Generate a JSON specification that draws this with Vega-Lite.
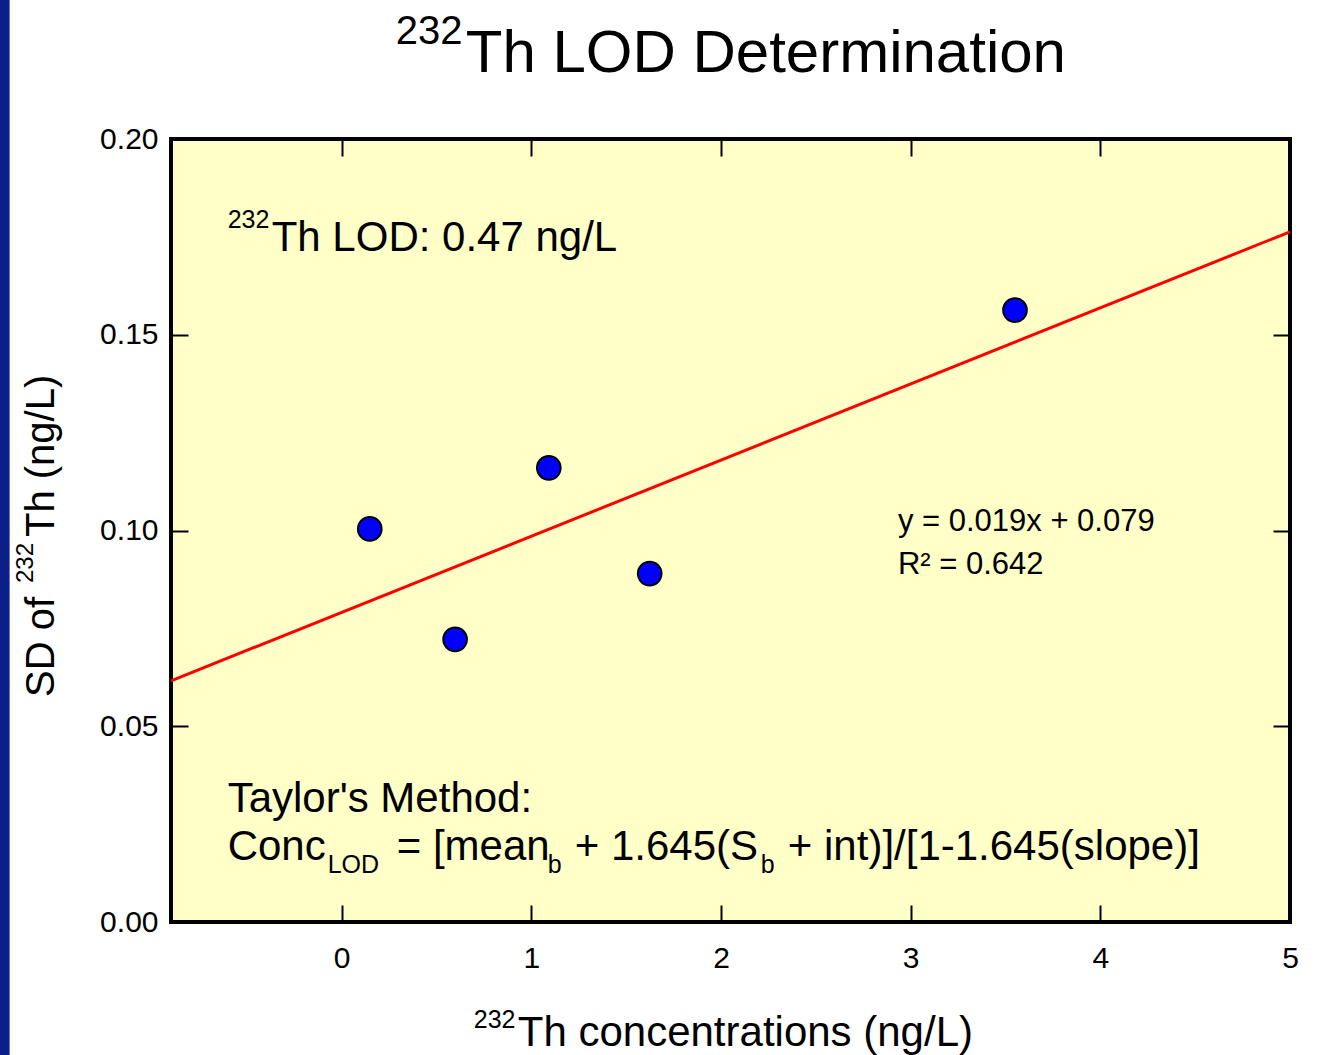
{
  "$schema": "https://vega.github.io/schema/vega-lite/v6.json",
  "width": 1119,
  "height": 783,
  "autosize": {"type": "none"},
  "padding": {"left": 171, "top": 139, "right": 46, "bottom": 133},
  "background": "white",
  "config": {
    "view": {"stroke": "black", "strokeWidth": 4, "fill": "#FFFFC8"},
    "font": "Liberation Sans",
    "text": {"font": "Liberation Sans", "color": "black", "align": "left", "baseline": "alphabetic"},
    "axis": {
      "domain": false, "grid": false, "tickSize": -17, "tickWidth": 2, "tickColor": "black",
      "labelFont": "Liberation Sans", "labelFontSize": 30, "labelColor": "black",
      "labelFlush": false, "labelOverlap": false
    }
  },
  "resolve": {"axis": {"x": "independent", "y": "independent"}},
  "layer": [
    {
      "data": {"values": [{}]},
      "mark": {"type": "rect", "color": "#0C1E88"},
      "encoding": {
        "x": {"datum": -1.85, "type": "quantitative", "scale": {"domain": [-0.9, 5], "nice": false, "zero": false}, "axis": null},
        "x2": {"datum": -1.751},
        "y": {"datum": -0.05, "type": "quantitative", "scale": {"domain": [0, 0.2], "nice": false, "zero": false}, "axis": null},
        "y2": {"datum": 0.25}
      }
    },
    {
      "data": {"values": [{"x": -0.9, "y": 0.0616}, {"x": 5, "y": 0.1763}]},
      "mark": {"type": "line", "color": "#FF0000", "strokeWidth": 3},
      "encoding": {
        "x": {"field": "x", "type": "quantitative", "scale": {"domain": [-0.9, 5], "nice": false, "zero": false},
              "axis": {"orient": "top", "values": [0, 1, 2, 3, 4, 5], "labels": false, "title": null}},
        "y": {"field": "y", "type": "quantitative", "scale": {"domain": [0, 0.2], "nice": false, "zero": false},
              "axis": {"orient": "right", "values": [0, 0.05, 0.1, 0.15, 0.2], "labels": false, "title": null}}
      }
    },
    {
      "data": {"values": [
        {"x": 0.148, "y": 0.1004},
        {"x": 0.598, "y": 0.0722},
        {"x": 1.092, "y": 0.116},
        {"x": 1.624, "y": 0.089},
        {"x": 3.55, "y": 0.1563}
      ]},
      "mark": {"type": "point", "shape": "circle", "filled": true, "fill": "#0000FF", "stroke": "black", "strokeWidth": 2, "size": 560, "opacity": 1},
      "encoding": {
        "x": {"field": "x", "type": "quantitative", "scale": {"domain": [-0.9, 5], "nice": false, "zero": false},
              "axis": {"orient": "bottom", "values": [0, 1, 2, 3, 4, 5], "labelPadding": 38, "title": null}},
        "y": {"field": "y", "type": "quantitative", "scale": {"domain": [0, 0.2], "nice": false, "zero": false},
              "axis": {"orient": "left", "values": [0, 0.05, 0.1, 0.15, 0.2], "format": ".2f", "labelPadding": 30, "title": null}}
      }
    },
    {
      "data": {"values": [{"t": "Th LOD Determination", "x": 0.654, "y": 0.21712}]},
      "mark": {"type": "text", "fontSize": 60},
      "encoding": {
        "x": {"field": "x", "type": "quantitative", "scale": {"domain": [-0.9, 5], "nice": false, "zero": false}, "axis": null},
        "y": {"field": "y", "type": "quantitative", "scale": {"domain": [0, 0.2], "nice": false, "zero": false}, "axis": null},
        "text": {"field": "t"}
      }
    },
    {
      "data": {"values": [{"t": "232", "x": 0.2848, "y": 0.22427}]},
      "mark": {"type": "text", "fontSize": 40},
      "encoding": {
        "x": {"field": "x", "type": "quantitative", "scale": {"domain": [-0.9, 5], "nice": false, "zero": false}, "axis": null},
        "y": {"field": "y", "type": "quantitative", "scale": {"domain": [0, 0.2], "nice": false, "zero": false}, "axis": null},
        "text": {"field": "t"}
      }
    },
    {
      "data": {"values": [
        {"t": "Th LOD: 0.47 ng/L", "x": -0.3692, "y": 0.17139},
        {"t": "Taylor's Method:", "x": -0.6013, "y": 0.0281},
        {"t": "Conc", "x": -0.6013, "y": 0.01584},
        {"t": "= [mean", "x": 0.2901, "y": 0.01584},
        {"t": "+ 1.645(S", "x": 1.2289, "y": 0.01584},
        {"t": "+ int)]/[1-1.645(slope)]", "x": 2.3523, "y": 0.01584},
        {"t": "Th concentrations (ng/L)", "x": 0.9283, "y": -0.03167}
      ]},
      "mark": {"type": "text", "fontSize": 42},
      "encoding": {
        "x": {"field": "x", "type": "quantitative", "scale": {"domain": [-0.9, 5], "nice": false, "zero": false}, "axis": null},
        "y": {"field": "y", "type": "quantitative", "scale": {"domain": [0, 0.2], "nice": false, "zero": false}, "axis": null},
        "text": {"field": "t"}
      }
    },
    {
      "data": {"values": [
        {"t": "y = 0.019x + 0.079", "x": 2.9325, "y": 0.09987},
        {"t": "R² = 0.642", "x": 2.9325, "y": 0.08889}
      ]},
      "mark": {"type": "text", "fontSize": 31},
      "encoding": {
        "x": {"field": "x", "type": "quantitative", "scale": {"domain": [-0.9, 5], "nice": false, "zero": false}, "axis": null},
        "y": {"field": "y", "type": "quantitative", "scale": {"domain": [0, 0.2], "nice": false, "zero": false}, "axis": null},
        "text": {"field": "t"}
      }
    },
    {
      "data": {"values": [
        {"t": "232", "x": -0.6013, "y": 0.17727},
        {"t": "LOD", "x": -0.0738, "y": 0.01252},
        {"t": "b", "x": 1.0865, "y": 0.01252},
        {"t": "b", "x": 2.2099, "y": 0.01252},
        {"t": "232", "x": 0.6962, "y": -0.02708}
      ]},
      "mark": {"type": "text", "fontSize": 25},
      "encoding": {
        "x": {"field": "x", "type": "quantitative", "scale": {"domain": [-0.9, 5], "nice": false, "zero": false}, "axis": null},
        "y": {"field": "y", "type": "quantitative", "scale": {"domain": [0, 0.2], "nice": false, "zero": false}, "axis": null},
        "text": {"field": "t"}
      }
    },
    {
      "data": {"values": [
        {"t": "SD of", "x": -1.519, "y": 0.05747},
        {"t": "Th (ng/L)", "x": -1.519, "y": 0.09834}
      ]},
      "mark": {"type": "text", "fontSize": 40, "angle": 270},
      "encoding": {
        "x": {"field": "x", "type": "quantitative", "scale": {"domain": [-0.9, 5], "nice": false, "zero": false}, "axis": null},
        "y": {"field": "y", "type": "quantitative", "scale": {"domain": [0, 0.2], "nice": false, "zero": false}, "axis": null},
        "text": {"field": "t"}
      }
    },
    {
      "data": {"values": [{"t": "232", "x": -1.6297, "y": 0.08659}]},
      "mark": {"type": "text", "fontSize": 24, "angle": 270},
      "encoding": {
        "x": {"field": "x", "type": "quantitative", "scale": {"domain": [-0.9, 5], "nice": false, "zero": false}, "axis": null},
        "y": {"field": "y", "type": "quantitative", "scale": {"domain": [0, 0.2], "nice": false, "zero": false}, "axis": null},
        "text": {"field": "t"}
      }
    }
  ]
}
